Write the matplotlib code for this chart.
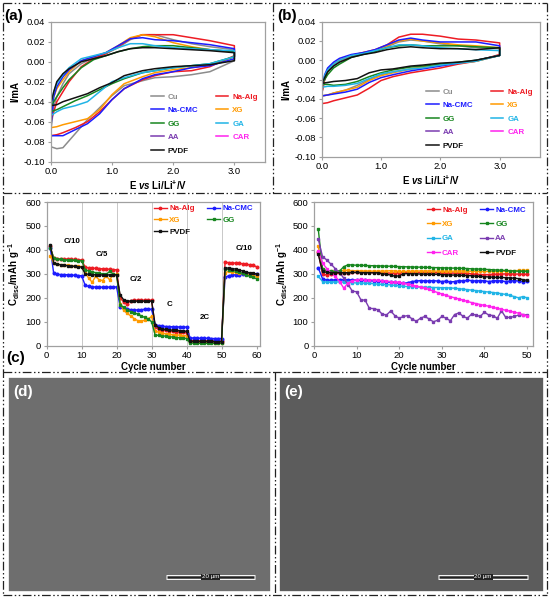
import numpy as np
import matplotlib
matplotlib.use('Agg')
import matplotlib.pyplot as plt
from matplotlib.lines import Line2D
from matplotlib.patches import Rectangle

plt.rcParams['font.family'] = ['Liberation Sans', 'DejaVu Sans']
plt.rcParams['mathtext.fontset'] = 'custom'
plt.rcParams['mathtext.rm'] = 'Liberation Sans:bold'
plt.rcParams['mathtext.it'] = 'Liberation Sans:bold:italic'
plt.rcParams['mathtext.bf'] = 'Liberation Sans:bold'

W, H = 550, 598

colors = {'Cu': '#8c8c8c', 'Na-Alg': '#ee1c24', 'Na-CMC': '#1c1cff', 'XG': '#ff9a00',
          'GG': '#17861f', 'GA': '#20b4e6', 'AA': '#7a3cb0', 'CAR': '#ff22ee', 'PVDF': '#111111'}

# ---- CV data (a) binder films, (b) ----
E_up = [0.0, 0.05, 0.1, 0.2, 0.3, 0.5, 0.7, 0.9, 1.1, 1.3, 1.5, 1.7, 2.0, 2.3, 2.6, 3.0]
E_dn = [3.0, 2.6, 2.3, 2.0, 1.7, 1.5, 1.2, 1.0, 0.8, 0.6, 0.4, 0.2, 0.1, 0.0]

cv_a_up = {
    'Cu':     [-0.070, -0.045, -0.035, -0.022, -0.012, -0.002, 0.004, 0.008, 0.014, 0.022, 0.027, 0.027, 0.022, 0.018, 0.015, 0.012],
    'Na-Alg': [-0.060, -0.050, -0.040, -0.030, -0.020, -0.005, 0.003, 0.008, 0.015, 0.023, 0.027, 0.027, 0.027, 0.024, 0.021, 0.016],
    'Na-CMC': [-0.067, -0.035, -0.025, -0.015, -0.008, 0.001, 0.005, 0.009, 0.016, 0.023, 0.024, 0.022, 0.021, 0.019, 0.017, 0.013],
    'XG':     [-0.050, -0.035, -0.027, -0.018, -0.010, 0.001, 0.005, 0.009, 0.016, 0.024, 0.027, 0.025, 0.019, 0.015, 0.012, 0.010],
    'GG':     [-0.045, -0.040, -0.035, -0.026, -0.018, -0.006, 0.002, 0.006, 0.010, 0.013, 0.015, 0.016, 0.016, 0.014, 0.012, 0.010],
    'GA':     [-0.045, -0.030, -0.022, -0.013, -0.006, 0.003, 0.006, 0.009, 0.014, 0.018, 0.018, 0.016, 0.014, 0.013, 0.012, 0.011],
    'PVDF':   [-0.043, -0.030, -0.020, -0.012, -0.007, 0.000, 0.003, 0.006, 0.010, 0.013, 0.014, 0.014, 0.013, 0.012, 0.011, 0.009],
}
cv_a_dn = {
    'Cu':     [0.001, -0.010, -0.013, -0.015, -0.016, -0.019, -0.024, -0.034, -0.046, -0.058, -0.072, -0.086, -0.087, -0.085],
    'Na-Alg': [0.006, -0.005, -0.009, -0.010, -0.014, -0.018, -0.027, -0.038, -0.050, -0.060, -0.066, -0.071, -0.073, -0.074],
    'Na-CMC': [0.003, -0.004, -0.006, -0.010, -0.013, -0.017, -0.027, -0.038, -0.052, -0.062, -0.068, -0.074, -0.074, -0.074],
    'XG':     [0.005, -0.003, -0.006, -0.008, -0.011, -0.015, -0.022, -0.033, -0.048, -0.057, -0.060, -0.063, -0.065, -0.066],
    'GG':     [0.005, -0.002, -0.004, -0.006, -0.009, -0.011, -0.017, -0.022, -0.028, -0.034, -0.039, -0.045, -0.048, -0.050],
    'GA':     [0.005, -0.002, -0.004, -0.006, -0.009, -0.011, -0.016, -0.020, -0.030, -0.040, -0.044, -0.047, -0.050, -0.054],
    'PVDF':   [0.001, -0.003, -0.004, -0.005, -0.007, -0.009, -0.014, -0.021, -0.026, -0.032, -0.036, -0.040, -0.043, -0.044],
}
cv_b_up = {
    'Cu':     [-0.035, -0.020, -0.012, -0.005, -0.001, 0.004, 0.007, 0.010, 0.014, 0.019, 0.021, 0.020, 0.017, 0.015, 0.013, 0.012],
    'Na-Alg': [-0.035, -0.020, -0.012, -0.004, 0.000, 0.005, 0.008, 0.011, 0.016, 0.024, 0.027, 0.027, 0.025, 0.022, 0.021, 0.018],
    'Na-CMC': [-0.030, -0.015, -0.008, -0.002, 0.002, 0.006, 0.008, 0.011, 0.016, 0.021, 0.023, 0.021, 0.019, 0.019, 0.019, 0.015],
    'XG':     [-0.030, -0.018, -0.010, -0.004, 0.000, 0.005, 0.008, 0.010, 0.015, 0.020, 0.022, 0.020, 0.018, 0.016, 0.015, 0.013],
    'GG':     [-0.025, -0.020, -0.015, -0.008, -0.004, 0.003, 0.006, 0.009, 0.013, 0.015, 0.016, 0.015, 0.015, 0.015, 0.014, 0.013],
    'GA':     [-0.028, -0.016, -0.010, -0.004, 0.000, 0.005, 0.007, 0.010, 0.013, 0.016, 0.016, 0.015, 0.013, 0.012, 0.011, 0.010],
    'PVDF':   [-0.025, -0.018, -0.012, -0.006, -0.002, 0.003, 0.006, 0.008, 0.011, 0.013, 0.014, 0.013, 0.012, 0.012, 0.011, 0.013],
}
cv_b_dn = {
    'Cu':     [0.005, -0.001, -0.003, -0.005, -0.008, -0.009, -0.012, -0.015, -0.020, -0.026, -0.031, -0.034, -0.036, -0.037],
    'Na-Alg': [0.006, -0.001, -0.004, -0.008, -0.011, -0.013, -0.017, -0.021, -0.029, -0.036, -0.039, -0.042, -0.044, -0.045],
    'Na-CMC': [0.005, 0.000, -0.003, -0.006, -0.009, -0.011, -0.015, -0.018, -0.023, -0.030, -0.033, -0.035, -0.036, -0.037],
    'XG':     [0.005, -0.001, -0.003, -0.005, -0.007, -0.009, -0.013, -0.016, -0.021, -0.028, -0.031, -0.034, -0.036, -0.037],
    'GG':     [0.005, 0.000, -0.002, -0.004, -0.006, -0.007, -0.010, -0.013, -0.017, -0.022, -0.025, -0.026, -0.025, -0.025],
    'GA':     [0.005, -0.001, -0.003, -0.005, -0.008, -0.009, -0.012, -0.014, -0.019, -0.024, -0.026, -0.027, -0.027, -0.028],
    'PVDF':   [0.005, 0.000, -0.002, -0.003, -0.005, -0.006, -0.009, -0.010, -0.013, -0.019, -0.021, -0.022, -0.023, -0.024],
}

# ---- rate capability (c) ----
rate_cycles = list(range(1, 61))
rate = {
    'Na-Alg': [415, 365, 364, 363, 362, 362, 361, 360, 359, 358,
               328, 325, 324, 323, 322, 321, 320, 319, 318, 317,
               200, 183, 175, 188, 190, 190, 190, 190, 190, 190,
               80, 68, 66, 64, 62, 60, 58, 57, 56, 55,
               22, 21, 21, 20, 20, 20, 20, 20, 19, 19,
               348, 347, 346, 345, 344, 342, 340, 338, 335, 330],
    'Na-CMC': [410, 302, 298, 297, 297, 296, 295, 294, 293, 292,
               252, 248, 246, 245, 245, 244, 244, 245, 246, 245,
               162, 158, 155, 150, 148, 150, 150, 152, 152, 152,
               88, 84, 82, 80, 80, 79, 79, 78, 78, 78,
               33, 32, 32, 31, 31, 31, 30, 30, 30, 30,
               285, 292, 295, 296, 297, 298, 299, 300, 300, 300],
    'XG':     [375, 345, 340, 338, 336, 335, 334, 333, 332, 330,
               305, 282, 265, 290, 275, 272, 292, 275, 296, 298,
               175, 148, 135, 125, 113, 105, 103, 106, 112, 122,
               62, 56, 53, 50, 48, 46, 45, 44, 42, 41,
               16, 15, 15, 14, 14, 14, 14, 13, 13, 13,
               305, 310, 308, 306, 304, 302, 300, 297, 293, 290],
    'GG':     [410, 368, 362, 360, 358, 357, 356, 356, 355, 355,
               318, 312, 308, 305, 302, 300, 298, 310, 300, 295,
               172, 160, 150, 142, 138, 132, 125, 118, 112, 100,
               45, 43, 41, 40, 38, 36, 34, 33, 32, 30,
               11, 11, 10, 10, 10, 10, 10, 10, 10, 10,
               320, 318, 315, 312, 308, 302, 296, 290, 285, 280],
    'PVDF':   [422, 345, 340, 338, 336, 334, 332, 331, 330, 328,
               300, 298, 297, 296, 296, 295, 295, 296, 296, 296,
               212, 192, 187, 186, 186, 186, 186, 186, 186, 186,
               88, 75, 70, 68, 66, 65, 64, 63, 62, 60,
               19, 18, 18, 18, 18, 18, 18, 17, 17, 17,
               325, 324, 322, 320, 316, 312, 308, 304, 302, 300],
}
rate_labels = ['C/10', 'C/5', 'C/2', 'C', '2C', 'C/10']
rate_label_x = [7.3, 15.7, 25.4, 35.2, 45.2, 56.4]
rate_label_y = [434, 379, 278, 173, 118, 407]
rate_switch = [10, 20, 30, 40, 50]

# ---- cycling at C/10 ----
cyc = list(range(1, 51))
cycling = {
    'Na-Alg': [390, 298, 296, 300, 302, 303, 304, 305, 306, 306, 306, 307, 306, 306, 307, 305, 304, 303, 303, 305,
               306, 307, 307, 306, 306, 306, 305, 305, 305, 305, 304, 304, 303, 303, 302, 302, 300, 298, 297, 297,
               297, 298, 298, 299, 300, 300, 299, 299, 298, 298],
    'Na-CMC': [325, 280, 273, 274, 275, 276, 276, 275, 275, 274, 274, 273, 272, 271, 270, 269, 267, 265, 264, 262,
               260, 263, 268, 270, 272, 271, 270, 272, 270, 268, 270, 266, 268, 272, 270, 273, 272, 270, 272, 271,
               268, 270, 272, 270, 268, 270, 272, 270, 268, 270],
    'XG':     [415, 320, 310, 312, 312, 313, 314, 314, 313, 313, 312, 312, 312, 311, 311, 311, 312, 313, 312, 310,
               310, 311, 311, 312, 312, 312, 312, 312, 311, 311, 311, 311, 311, 312, 312, 311, 311, 311, 310, 310,
               310, 310, 310, 311, 311, 312, 313, 314, 314, 315],
    'GG':     [487, 322, 312, 310, 311, 312, 330, 338, 337, 336, 336, 335, 334, 334, 333, 333, 332, 332, 331, 330,
               330, 329, 329, 328, 328, 327, 327, 326, 326, 325, 325, 324, 324, 323, 323, 322, 321, 320, 320, 319,
               318, 317, 316, 315, 314, 313, 312, 311, 311, 310],
    'GA':     [290, 268, 265, 265, 266, 266, 265, 264, 263, 262, 262, 261, 260, 259, 257, 256, 255, 254, 252, 250,
               248, 247, 246, 245, 245, 244, 244, 243, 243, 242, 242, 241, 240, 238, 236, 234, 232, 230, 228, 226,
               224, 222, 220, 217, 214, 210, 205, 200, 205, 200],
    'AA':     [445, 372, 358, 340, 322, 305, 282, 255, 228, 225, 192, 190, 156, 155, 150, 132, 128, 145, 125, 115,
               122, 126, 112, 102, 115, 122, 112, 100, 106, 122, 115, 104, 130, 137, 122, 115, 132, 128, 122, 140,
               128, 126, 114, 146, 118, 118, 122, 128, 130, 128],
    'CAR':    [395, 345, 322, 302, 290, 268, 240, 262, 272, 275, 277, 276, 275, 274, 273, 272, 270, 268, 266, 264,
               260, 257, 253, 249, 245, 240, 235, 228, 222, 216, 210, 205, 200, 195, 190, 185, 180, 176, 172, 168,
               165, 160, 156, 152, 148, 144, 140, 136, 130, 125],
    'PVDF':   [382, 310, 306, 305, 305, 305, 305, 305, 306, 306, 305, 305, 305, 304, 305, 300, 298, 295, 290, 292,
               300, 301, 300, 300, 299, 299, 298, 298, 298, 297, 296, 295, 295, 294, 294, 293, 292, 290, 289, 288,
               287, 286, 285, 285, 284, 283, 282, 280, 276, 273],
}
markers = {'Na-Alg': 'o', 'Na-CMC': 'o', 'XG': 's', 'GG': 's', 'GA': 's', 'AA': 's', 'CAR': 's', 'PVDF': 's'}


def px_axes(fig, l, t, r, b):
    return fig.add_axes([l / W, 1 - b / H, (r - l) / W, (b - t) / H])


def style(ax):
    for s in ax.spines.values():
        s.set_color('#a0a0a0')
        s.set_linewidth(0.9)
    ax.tick_params(labelsize=6.8, length=2.5, width=0.8, color='#a0a0a0', pad=1.5)


fig = plt.figure(figsize=(W / 100, H / 100), dpi=100)

cv_leg_order = ['Cu', 'Na-CMC', 'GG', 'AA', 'PVDF', 'Na-Alg', 'XG', 'GA', 'CAR']
for box, up, dn, xmax, tag, tagx in [((50.7, 21.7, 265, 161.7), cv_a_up, cv_a_dn, 3.5, '(a)', 4),
                                      ((321.7, 21.7, 540, 156.7), cv_b_up, cv_b_dn, 3.68, '(b)', 277)]:
    ax = px_axes(fig, *box)
    style(ax)
    handles = {}
    for name in ['Cu', 'Na-Alg', 'XG', 'Na-CMC', 'GG', 'GA', 'PVDF']:
        x = E_up + E_dn
        y = up[name] + dn[name]
        handles[name], = ax.plot(x, y, color=colors[name], lw=1.1, label=name)
    for name in ['AA', 'CAR']:
        handles[name], = ax.plot([], [], color=colors[name], lw=1.1, label=name)
    ax.set_xlim(0, xmax)
    ax.set_ylim(-0.10, 0.04)
    ax.set_xticks([0, 1, 2, 3])
    ax.set_xticklabels(['0.0', '1.0', '2.0', '3.0'])
    ax.set_yticks(np.arange(-0.10, 0.041, 0.02))
    ax.set_yticklabels(['%.2f' % v for v in np.arange(-0.10, 0.041, 0.02)])
    ax.set_xlabel(r'E $\mathit{vs}$ Li/Li$^{+}$/V', fontsize=7, fontweight='bold', labelpad=2)
    ax.set_ylabel('I/mA', fontsize=7, fontweight='bold', labelpad=2)
    ax.legend([handles[n] for n in cv_leg_order], cv_leg_order, ncol=2, frameon=False,
              loc='lower right', bbox_to_anchor=(1.0, 0.0),
              prop={'weight': 'bold', 'size': 5.7}, labelcolor='linecolor',
              handlelength=1.6, handletextpad=0.5, columnspacing=2.2, labelspacing=0.75)
    fig.text(tagx / W, 1 - 16 / H, tag, fontsize=11, fontweight='bold', va='center')

# (c) rate capability
ax = px_axes(fig, 46.7, 202, 260, 345.7)
style(ax)
for x in rate_switch:
    ax.axvline(x, color='#c8c8c8', lw=0.7, zorder=0)
h = {}
for name in ['Na-Alg', 'Na-CMC', 'XG', 'GG', 'PVDF']:
    h[name], = ax.plot(rate_cycles, rate[name], color=colors[name], marker=markers[name], ms=1.9, lw=1.0)
for lab, x, y in zip(rate_labels, rate_label_x, rate_label_y):
    ax.text(x, y, lab, fontsize=5.7, fontweight='bold', ha='center', va='center')
ax.set_xlim(0, 61)
ax.set_ylim(0, 600)
ax.set_xticks(range(0, 61, 10))
ax.set_yticks(range(0, 601, 100))
ax.set_xlabel('Cycle number', fontsize=7, fontweight='bold', labelpad=1)
ax.set_ylabel(r'C$_{\rm disc}$/mAh g$^{-1}$', fontsize=7, fontweight='bold', labelpad=2)
order = ['Na-Alg', 'XG', 'PVDF', 'Na-CMC', 'GG']
ax.legend([h[n] for n in order], order, ncol=2, frameon=False, loc='upper right',
          bbox_to_anchor=(1.0, 1.03), prop={'weight': 'bold', 'size': 5.7}, labelcolor='linecolor',
          handlelength=1.6, handletextpad=0.3, columnspacing=1.6, labelspacing=0.55, markerscale=0.9)
fig.text(6 / W, 1 - 358 / H, '(c)', fontsize=11, fontweight='bold', va='center')

# cycling
ax = px_axes(fig, 314, 202, 533, 345.7)
style(ax)
h = {}
for name in ['Na-Alg', 'Na-CMC', 'XG', 'GG', 'GA', 'AA', 'CAR', 'PVDF']:
    h[name], = ax.plot(cyc, cycling[name], color=colors[name], marker=markers[name], ms=1.9, lw=1.0)
ax.set_xlim(0, 51.4)
ax.set_ylim(0, 600)
ax.set_xticks(range(0, 51, 10))
ax.set_yticks(range(0, 601, 100))
ax.set_xlabel('Cycle number', fontsize=7, fontweight='bold', labelpad=1)
ax.set_ylabel(r'C$_{\rm disc}$/mAh g$^{-1}$', fontsize=7, fontweight='bold', labelpad=2)
order = ['Na-Alg', 'XG', 'GA', 'CAR', 'Na-CMC', 'GG', 'AA', 'PVDF']
ax.legend([h[n] for n in order], order, ncol=2, frameon=False, loc='upper right',
          bbox_to_anchor=(1.0, 1.02), prop={'weight': 'bold', 'size': 5.7}, labelcolor='linecolor',
          handlelength=1.6, handletextpad=0.3, columnspacing=1.6, labelspacing=0.85, markerscale=0.9)

# SEM image panels (d) and (e)
for (l, t, r, b), tag, shade in [((8, 377, 271, 592), '(d)', '#6e6e6e'), ((279, 377, 544, 592), '(e)', '#5c5c5c')]:
    iax = px_axes(fig, l, t, r, b)
    iax.set_xlim(0, 1)
    iax.set_ylim(0, 1)
    iax.add_patch(Rectangle((0, 0), 1, 1, color=shade))
    for s in iax.spines.values():
        s.set_color('white')
        s.set_linewidth(1.2)
    iax.set_xticks([])
    iax.set_yticks([])
    iax.text(0.02, 0.93, tag, color='white', fontsize=11, fontweight='bold', va='center', transform=iax.transAxes)
    iax.plot([0.60, 0.94], [0.07, 0.07], color='white', lw=3.5, solid_capstyle='butt')
    iax.plot([0.605, 0.935], [0.07, 0.07], color='#222222', lw=1.8, solid_capstyle='butt')
    iax.text(0.77, 0.07, '20 \u00b5m', color='white', fontsize=4.5, ha='center', va='center',
             bbox=dict(facecolor='#222222', edgecolor='none', pad=0.6))

# dash-dot frame lines
dd = (0, (7, 2, 1.2, 2, 1.2, 2))
segs = [((2.5, 2.5), (547, 2.5)), ((2.5, 595), (547, 595)), ((2.5, 2.5), (2.5, 595)), ((547, 2.5), (547, 595)),
        ((2.5, 193), (547, 193)), ((2.5, 372), (547, 372)), ((273, 2.5), (273, 193)), ((275, 372), (275, 595))]
for (x0, y0), (x1, y1) in segs:
    fig.add_artist(Line2D([x0 / W, x1 / W], [1 - y0 / H, 1 - y1 / H], color='#222222', lw=0.9, linestyle=dd))

fig.savefig('out.png', dpi=100)
